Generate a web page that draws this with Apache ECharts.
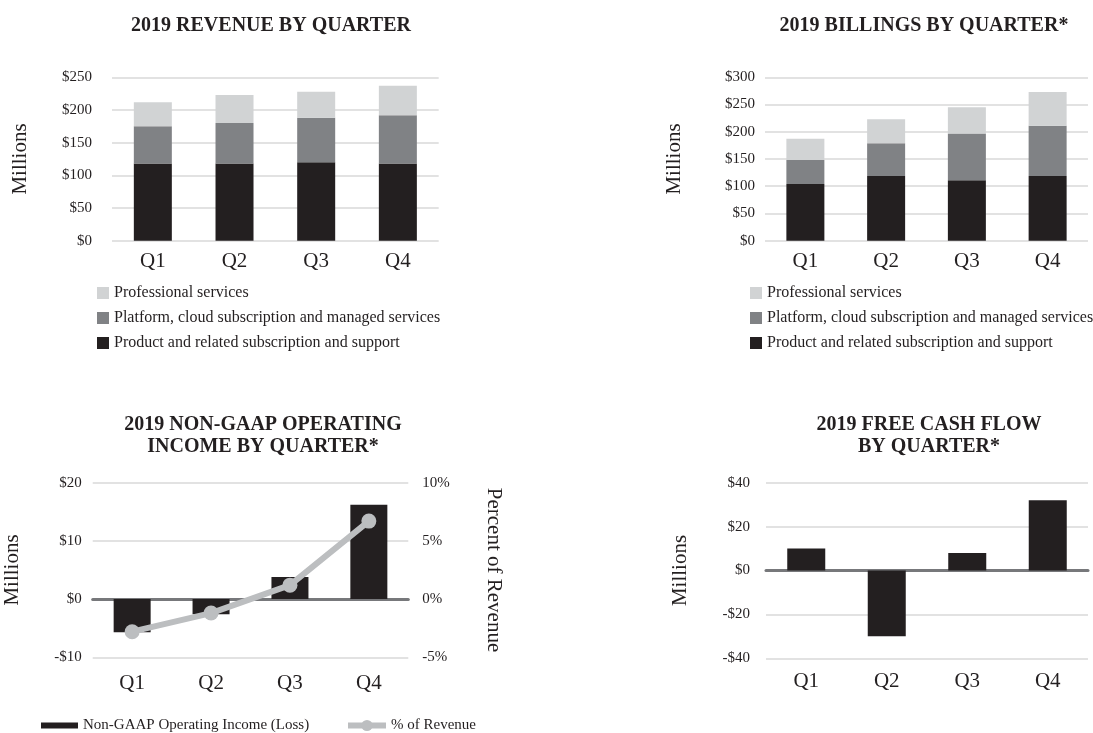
<!DOCTYPE html>
<html>
<head>
<meta charset="utf-8">
<script src="https://cdn.jsdelivr.net/npm/echarts@6/dist/echarts.min.js"></script>
<style>
html,body{margin:0;padding:0;background:#fff;}
#chart{width:1093px;height:733px;}
</style>
</head>
<body>
<div id="chart"></div>
<script>
// ---- Data ----
const quarters = ['Q1', 'Q2', 'Q3', 'Q4'];

const revProduct = [118, 118, 120, 118];
const revPlatform = [57, 62, 68, 74];
const revProfessional = [37, 43, 40, 45];

const billProduct = [104, 119, 111, 119];
const billPlatform = [44, 60, 86, 92];
const billProfessional = [39, 44, 48, 62];

const opIncome = [-5.7, -2.6, 3.8, 16.2];
const opPercent = [-2.8, -1.2, 1.2, 6.7];

const freeCashFlow = [10, -30, 8, 32];

const seriesNames = {
  prof: 'Professional services',
  plat: 'Platform, cloud subscription and managed services',
  prod: 'Product and related subscription and support',
  opInc: 'Non-GAAP Operating Income (Loss)',
  opPct: '% of Revenue',
  fcf: 'Free Cash Flow'
};

const titles = [
  '2019 REVENUE BY QUARTER',
  '2019 BILLINGS BY QUARTER*',
  '2019 NON-GAAP OPERATING\nINCOME BY QUARTER*',
  '2019 FREE CASH FLOW\nBY QUARTER*'
];

// ---- Styles ----
const FONT = 'Liberation Serif';
const TXT = '#231f20';
const C_DARK = '#231f20';
const C_MID = '#808285';
const C_LIGHT = '#d1d3d4';
const C_GRID = '#d9d9d9';
const C_ZERO = '#77787b';
const C_LINE = '#bcbec0';

const money = v => (v < 0 ? '-$' + Math.abs(v) : '$' + v);

const chart = echarts.init(document.getElementById('chart'), null, {renderer: 'canvas'});

function yAxisBase(gridIndex, min, max, interval, nameGap, labelMargin) {
  return {
    type: 'value', gridIndex, min, max, interval,
    name: 'Millions', nameLocation: 'middle', nameGap, nameRotate: 90,
    nameTextStyle: {fontFamily: FONT, fontSize: 21, color: TXT},
    axisLine: {show: false}, axisTick: {show: false},
    axisLabel: {fontFamily: FONT, fontSize: 15, color: TXT, margin: labelMargin, formatter: money},
    splitLine: {lineStyle: {color: C_GRID, width: 1.5}}
  };
}
function xAxisBase(gridIndex, margin, zeroLine) {
  return {
    type: 'category', gridIndex, data: quarters,
    axisTick: {show: false},
    axisLine: zeroLine ? {show: true, onZero: true, lineStyle: {color: C_ZERO, width: 3}} : {show: false},
    axisLabel: {fontFamily: FONT, fontSize: 21, color: TXT, margin}
  };
}

const titleStyle = {fontFamily: FONT, fontSize: 20, fontWeight: 'bold', color: TXT, lineHeight: 22};
const legendText = {fontFamily: FONT, fontSize: 16, color: TXT};
const legendText3 = {fontFamily: FONT, fontSize: 15, color: TXT};

const option = {
  backgroundColor: '#fff',
  animation: false,
  title: [
    {text: titles[0], left: 266, top: 10, textAlign: 'center', textStyle: titleStyle},
    {text: titles[1], left: 919, top: 10, textAlign: 'center', textStyle: titleStyle},
    {text: titles[2], left: 258, top: 409, textAlign: 'center', textStyle: titleStyle},
    {text: titles[3], left: 924, top: 409, textAlign: 'center', textStyle: titleStyle}
  ],
  legend: [
    {left: 97, top: 285, orient: 'vertical', padding: 0, itemGap: 9, itemWidth: 12, itemHeight: 12,
     icon: 'rect', textStyle: legendText, data: [seriesNames.prof, seriesNames.plat, seriesNames.prod]},
    {left: 750, top: 285, orient: 'vertical', padding: 0, itemGap: 9, itemWidth: 12, itemHeight: 12,
     icon: 'rect', textStyle: legendText, data: [seriesNames.prof, seriesNames.plat, seriesNames.prod]},
    {left: 41, top: 718, padding: 0, itemWidth: 37, itemHeight: 6, icon: 'rect',
     textStyle: legendText3, data: [seriesNames.opInc]},
    {left: 345, top: 718, padding: 0, itemWidth: 38, itemHeight: 14,
     lineStyle: {width: 6, color: C_LINE},
     textStyle: legendText3, data: [seriesNames.opPct]}
  ],
  grid: [
    {left: 112, top: 77.3, width: 326.7, height: 163.4},
    {left: 765, top: 77.3, width: 323, height: 163.4},
    {left: 92.7, top: 482.7, width: 315.6, height: 174.6},
    {left: 766, top: 482.7, width: 322, height: 175.6}
  ],
  xAxis: [
    xAxisBase(0, 10, false),
    xAxisBase(1, 10, false),
    xAxisBase(2, 16, true),
    xAxisBase(3, 13, true)
  ],
  yAxis: [
    yAxisBase(0, 0, 250, 50, 81, 20),
    yAxisBase(1, 0, 300, 50, 80, 10),
    yAxisBase(2, -10, 20, 10, 70, 11),
    {
      type: 'value', gridIndex: 2, min: -5, max: 10, interval: 5, position: 'right',
      name: 'Percent of Revenue', nameLocation: 'middle', nameGap: 75, nameRotate: -90,
      nameTextStyle: {fontFamily: FONT, fontSize: 21, color: TXT},
      axisLine: {show: false}, axisTick: {show: false},
      axisLabel: {fontFamily: FONT, fontSize: 15, color: TXT, margin: 14, formatter: v => v + '%'},
      splitLine: {show: false}
    },
    yAxisBase(3, -40, 40, 20, 75, 16)
  ],
  series: [
    {name: seriesNames.prod, type: 'bar', stack: 'rev', xAxisIndex: 0, yAxisIndex: 0, barWidth: 38, data: revProduct, itemStyle: {color: C_DARK}},
    {name: seriesNames.plat, type: 'bar', stack: 'rev', xAxisIndex: 0, yAxisIndex: 0, barWidth: 38, data: revPlatform, itemStyle: {color: C_MID}},
    {name: seriesNames.prof, type: 'bar', stack: 'rev', xAxisIndex: 0, yAxisIndex: 0, barWidth: 38, data: revProfessional, itemStyle: {color: C_LIGHT}},

    {name: seriesNames.prod, type: 'bar', stack: 'bill', xAxisIndex: 1, yAxisIndex: 1, barWidth: 38, data: billProduct, itemStyle: {color: C_DARK}},
    {name: seriesNames.plat, type: 'bar', stack: 'bill', xAxisIndex: 1, yAxisIndex: 1, barWidth: 38, data: billPlatform, itemStyle: {color: C_MID}},
    {name: seriesNames.prof, type: 'bar', stack: 'bill', xAxisIndex: 1, yAxisIndex: 1, barWidth: 38, data: billProfessional, itemStyle: {color: C_LIGHT}},

    {name: seriesNames.opInc, type: 'bar', xAxisIndex: 2, yAxisIndex: 2, barWidth: 37, data: opIncome, itemStyle: {color: C_DARK}, z: 1},
    {name: seriesNames.opPct, type: 'line', xAxisIndex: 2, yAxisIndex: 3, data: opPercent,
     symbol: 'circle', symbolSize: 15, itemStyle: {color: C_LINE}, lineStyle: {color: C_LINE, width: 6}, z: 5},

    {name: seriesNames.fcf, type: 'bar', xAxisIndex: 3, yAxisIndex: 4, barWidth: 38, data: freeCashFlow, itemStyle: {color: C_DARK}}
  ]
};

chart.setOption(option);
</script>
</body>
</html>
